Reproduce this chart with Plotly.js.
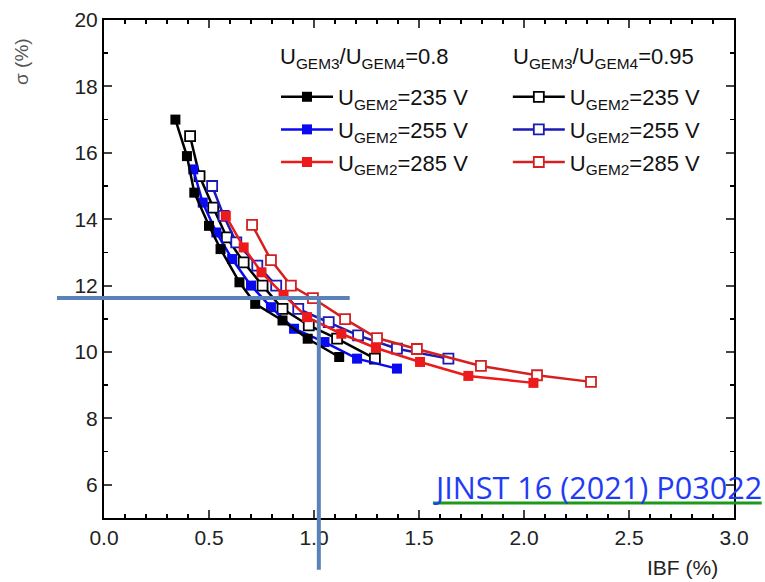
<!DOCTYPE html>
<html>
<head>
<meta charset="utf-8">
<script src="https://cdn.plot.ly/plotly-3.0.1.min.js"></script>
<style>html,body{margin:0;padding:0;background:#fff;}#chart{width:765px;height:582px;}</style>
</head>
<body>
<div id="chart"></div>
<script>
// IBF (%) and sigma (%) per series
const ibf_235_08 = [0.34, 0.395, 0.43, 0.50, 0.555, 0.645, 0.72, 0.85, 0.97, 1.12];
const sig_235_08 = [17.0, 15.9, 14.8, 13.8, 13.1, 12.1, 11.45, 10.95, 10.4, 9.85];
const ibf_255_08 = [0.425, 0.47, 0.535, 0.61, 0.70, 0.795, 0.905, 1.05, 1.205, 1.395];
const sig_255_08 = [15.5, 14.5, 13.6, 12.8, 12.0, 11.35, 10.7, 10.3, 9.8, 9.5];
const ibf_285_08 = [0.58, 0.665, 0.75, 0.855, 0.967, 1.13, 1.295, 1.505, 1.735, 2.045];
const sig_285_08 = [14.1, 13.15, 12.4, 11.72, 11.05, 10.55, 10.12, 9.7, 9.28, 9.07];
const ibf_235_095 = [0.41, 0.455, 0.52, 0.585, 0.665, 0.755, 0.85, 0.975, 1.11, 1.29];
const sig_235_095 = [16.5, 15.3, 14.35, 13.45, 12.7, 12.0, 11.3, 10.8, 10.4, 9.8];
const ibf_255_095 = [0.515, 0.57, 0.63, 0.73, 0.82, 0.925, 1.07, 1.21, 1.395, 1.64];
const sig_255_095 = [15.0, 14.1, 13.3, 12.6, 12.0, 11.3, 10.9, 10.5, 10.1, 9.8];
const ibf_285_095 = [0.705, 0.795, 0.89, 0.995, 1.148, 1.30, 1.49, 1.795, 2.062, 2.319];
const sig_285_095 = [13.83, 12.77, 12.0, 11.62, 10.99, 10.42, 10.09, 9.58, 9.3, 9.1];

const names = ['U<sub>GEM2</sub>=235 V', 'U<sub>GEM2</sub>=255 V', 'U<sub>GEM2</sub>=285 V'];
const header1 = 'U<sub>GEM3</sub>/U<sub>GEM4</sub>=0.8';
const header2 = 'U<sub>GEM3</sub>/U<sub>GEM4</sub>=0.95';
const xTitle = 'IBF (%)';
const yTitle = 'σ (%)';
const refText = 'JINST 16 (2021) P03022';

const colFilled = ['#000000', '#0a0af0', '#ec1a1a'];
const colOpen = ['#000000', '#1a1ab4', '#d42020'];

function tr(x, y, i, open) {
  const c = open ? colOpen[i] : colFilled[i];
  return {
    x: x, y: y, type: 'scatter', mode: 'lines+markers', name: names[i],
    legend: open ? 'legend2' : 'legend',
    legendgroup: (open ? 'o' : 'f') + i,
    legendrank: i + 1,
    line: {color: c, width: 2.5},
    marker: {symbol: 'square', size: 10, color: open ? '#ffffff' : c,
             line: {color: c, width: open ? 1.8 : 0}},
    cliponaxis: false
  };
}

const data = [
  tr(ibf_235_095, sig_235_095, 0, true),
  tr(ibf_255_095, sig_255_095, 1, true),
  tr(ibf_285_095, sig_285_095, 2, true),
  tr(ibf_285_08, sig_285_08, 2, false),
  tr(ibf_255_08, sig_255_08, 1, false),
  tr(ibf_235_08, sig_235_08, 0, false)
];

const tickFont = {family: 'Liberation Sans, Arial, sans-serif', size: 21, color: '#222'};
const legFont = {family: 'Liberation Sans, Arial, sans-serif', size: 22, color: '#111'};

const layout = {
  width: 765, height: 582,
  margin: {l: 104, r: 31, t: 20, b: 64},
  paper_bgcolor: '#ffffff', plot_bgcolor: '#ffffff',
  showlegend: true,
  xaxis: {
    range: [0, 3], dtick: 0.5, tickformat: '.1f', ticks: 'inside', ticklen: 8, tickwidth: 2,
    showline: true, linewidth: 2, linecolor: '#000', mirror: 'allticks', showgrid: false, zeroline: false,
    tickfont: tickFont,
    minor: {dtick: 0.1, ticks: 'inside', ticklen: 4, tickwidth: 1.5, tickcolor: '#000', showgrid: false}
  },
  yaxis: {
    range: [5, 20], dtick: 2, tick0: 0, ticks: 'inside', ticklen: 8, tickwidth: 2,
    showline: true, linewidth: 2, linecolor: '#000', mirror: 'allticks', showgrid: false, zeroline: false,
    tickfont: tickFont,
    minor: {dtick: 1, ticks: 'inside', ticklen: 4, tickwidth: 1.5, tickcolor: '#000', showgrid: false}
  },
  legend: {
    x: 0.273, y: 0.8876, xanchor: 'left', yanchor: 'top', bgcolor: 'rgba(0,0,0,0)',
    font: legFont, itemwidth: 52, tracegroupgap: 1, traceorder: 'grouped'
  },
  legend2: {
    x: 0.641, y: 0.8876, xanchor: 'left', yanchor: 'top', bgcolor: 'rgba(0,0,0,0)',
    font: legFont, itemwidth: 52, tracegroupgap: 1, traceorder: 'grouped'
  },
  annotations: [
    {text: header1, xref: 'paper', yref: 'paper', x: 0.276, y: 0.9237, xanchor: 'left', yanchor: 'middle',
     showarrow: false, font: legFont},
    {text: header2, xref: 'paper', yref: 'paper', x: 0.646, y: 0.9237, xanchor: 'left', yanchor: 'middle',
     showarrow: false, font: legFont},
    {text: yTitle, xref: 'paper', yref: 'paper', x: -0.130, y: 0.916, xanchor: 'center', yanchor: 'middle',
     textangle: -90, showarrow: false,
     font: {family: 'Liberation Sans, Arial, sans-serif', size: 19, color: '#555'}},
    {text: xTitle, xref: 'paper', yref: 'paper', x: 0.919, y: -0.10, xanchor: 'center', yanchor: 'middle',
     showarrow: false, font: {family: 'Liberation Sans, Arial, sans-serif', size: 21, color: '#222'}},
    {text: refText, xref: 'paper', yref: 'paper', x: 0.519, y: 0.062, xanchor: 'left', yanchor: 'middle',
     showarrow: false, font: {family: 'Open Sans, sans-serif', size: 30.6, color: '#1f3cf5'}}
  ],
  shapes: [
    {type: 'line', xref: 'paper', yref: 'paper', x0: -0.0746, x1: 0.390, y0: 0.4418, y1: 0.4418,
     line: {color: '#5b82b8', width: 4}},
    {type: 'line', xref: 'paper', yref: 'paper', x0: 0.341, x1: 0.341, y0: 0.4418, y1: -0.104,
     line: {color: '#5b82b8', width: 4}},
    {type: 'line', xref: 'paper', yref: 'paper', x0: 0.522, x1: 1.044, y0: 0.030, y1: 0.030,
     line: {color: '#1c9a1c', width: 3}}
  ]
};

Plotly.newPlot('chart', data, layout, {displayModeBar: false, staticPlot: true});
</script>
</body>
</html>
